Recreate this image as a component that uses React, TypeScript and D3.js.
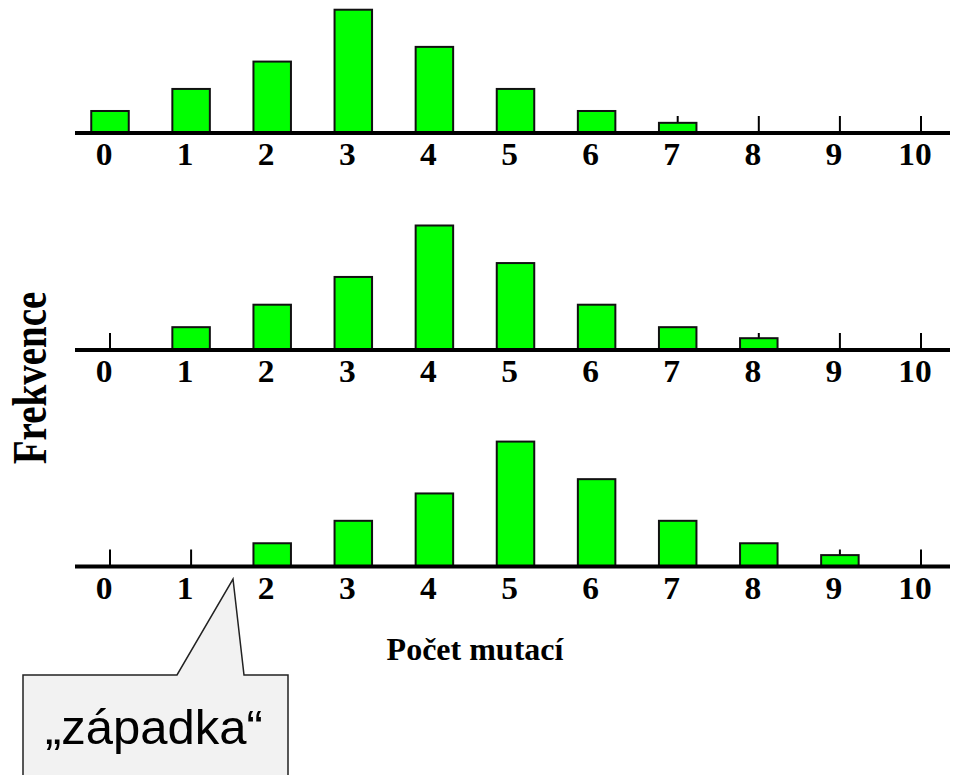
import React from "react";
import * as d3 from "d3";

// Number of mutations (categories 0..10)
const categories = [0, 1, 2, 3, 4, 5, 6, 7, 8, 9, 10];
const tickLabels = ["0", "1", "2", "3", "4", "5", "6", "7", "8", "9", "10"];

// Relative frequencies for the three generations
const series1 = [0.049, 0.103, 0.17, 0.297, 0.206, 0.103, 0.049, 0.02, 0, 0, 0];
const series2 = [0, 0.051, 0.106, 0.174, 0.3, 0.208, 0.106, 0.051, 0.024, 0, 0];
const series3 = [0, 0, 0.052, 0.107, 0.174, 0.301, 0.209, 0.107, 0.052, 0.023, 0];

const panels = [series1, series2, series3];

const yTitle = "Frekvence";
const xTitle = "Počet mutací";
const calloutText = "„západka“";

const W = 957;
const H = 775;
const baselines = [133, 350, 566.5];
const barWidth = 37.5;

export default function App() {
  const x = d3.scaleLinear().domain([0, 10]).range([110, 921]);
  const y = d3.scaleLinear().domain([0, 0.3]).range([0, 122.5]);
  const serif = "'Liberation Serif', 'Times New Roman', serif";

  return (
    <svg
      width={W}
      height={H}
      viewBox={`0 0 ${W} ${H}`}
      style={{ position: "absolute", left: 0, top: 0, background: "#fff" }}
    >
      {panels.map((vals, pi) => {
        const base = baselines[pi];
        const axisTop = base - 2;
        return (
          <g key={pi}>
            {categories.map((c) => (
              <line
                key={"t" + c}
                x1={x(c)}
                x2={x(c)}
                y1={axisTop - 15}
                y2={base}
                stroke="#000"
                strokeWidth={2}
              />
            ))}
            {categories.map((c, i) =>
              vals[i] > 0 ? (
                <rect
                  key={"b" + c}
                  x={x(c) - barWidth / 2}
                  y={axisTop - y(vals[i])}
                  width={barWidth}
                  height={y(vals[i]) + 2}
                  fill="#00ff00"
                  stroke="#111"
                  strokeWidth={2}
                />
              ) : null
            )}
            <line x1={75} x2={950} y1={base} y2={base} stroke="#000" strokeWidth={4} />
            {categories.map((c, i) => (
              <text
                key={"l" + c}
                transform={`translate(${x(c) - 6},${base + 32}) scale(1.08,1)`}
                textAnchor="middle"
                fontFamily={serif}
                fontWeight="bold"
                fontSize={31}
                fill="#000"
              >
                {tickLabels[i]}
              </text>
            ))}
          </g>
        );
      })}

      <text
        transform={`translate(46,378) rotate(-90) scale(1,1.22)`}
        textAnchor="middle"
        fontFamily={serif}
        fontWeight="bold"
        fontSize={39}
        fill="#000"
      >
        {yTitle}
      </text>

      <text
        x={475}
        y={660}
        textAnchor="middle"
        fontFamily={serif}
        fontWeight="bold"
        fontSize={32}
        fill="#000"
      >
        {xTitle}
      </text>

      <path
        d="M23,785 L23,675 L177,675 L233,579 L244,675 L288,675 L288,785"
        fill="#f2f2f2"
        stroke="#222"
        strokeWidth={1.5}
      />
      <text
        x={154}
        y={744}
        textAnchor="middle"
        fontFamily="'Liberation Sans', Arial, sans-serif"
        fontSize={49}
        fill="#000"
      >
        {calloutText}
      </text>
    </svg>
  );
}
